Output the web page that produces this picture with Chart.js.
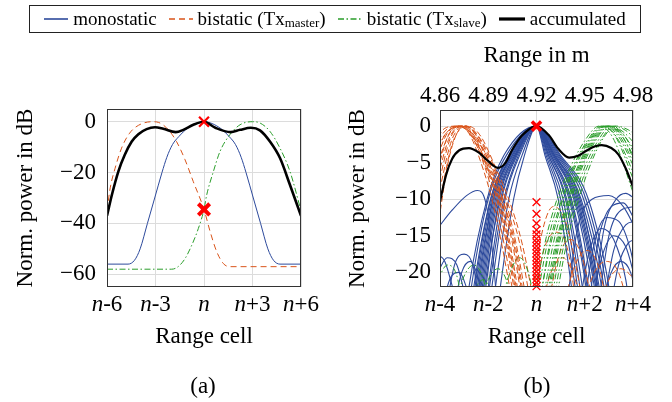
<!DOCTYPE html>
<html>
<head>
<meta charset="utf-8">
<script src="https://cdn.jsdelivr.net/npm/chart.js@4/dist/chart.umd.min.js"></script>
<style>
  body { margin: 0; width: 672px; height: 402px; position: relative; background: #fff; overflow: hidden;
         font-family: "Liberation Serif", serif; color: #000; }
  #chartA { position: absolute; left: 0; top: 0; }
  #chartB { position: absolute; left: 336px; top: 0; }
  .legend { position: absolute; left: 29px; top: 5px; width: 610px; height: 26px; border: 1px solid #222;
            display: flex; align-items: center; justify-content: center; gap: 12px; font-size: 19px; white-space: nowrap; }
  .legend span { display: flex; align-items: center; }
  .legend svg { margin-right: 5px; }
  .legend sub { font-size: 13px; position: relative; top: 4px; }
  .cap { position: absolute; top: 372px; width: 60px; text-align: center; font-size: 23px; line-height: 28px; }
</style>
</head>
<body>
<canvas id="chartA" width="336" height="402"></canvas>
<canvas id="chartB" width="336" height="402"></canvas>

<div class="legend">
  <span><svg width="24" height="10"><line x1="0" y1="5" x2="24" y2="5" stroke="#2d4a9c" stroke-width="1.6"/></svg>monostatic</span>
  <span><svg width="24" height="10"><line x1="0" y1="5" x2="24" y2="5" stroke="#d9541a" stroke-width="1.6" stroke-dasharray="6 4"/></svg>bistatic (Tx<sub>master</sub>)</span>
  <span><svg width="24" height="10"><line x1="0" y1="5" x2="24" y2="5" stroke="#2a9d2a" stroke-width="1.6" stroke-dasharray="6 2.5 1.5 2.5"/></svg>bistatic (Tx<sub>slave</sub>)</span>
  <span><svg width="26" height="10"><line x1="0" y1="5" x2="26" y2="5" stroke="#000" stroke-width="3.2"/></svg>accumulated</span>
</div>
<div class="cap" style="left:173px">(a)</div>
<div class="cap" style="left:507px">(b)</div>

<script>
// ---- (a) single target ----
const xTicksA = [-6, -3, 0, 3, 6];
const xLabelsA = ["-6", "-3", "", "+3", "+6"];
const yTicksA = [0, -20, -40, -60];

const monoA = [[-6, -56], [-4.7, -56], [-4.3, -54.5], [-3.95, -50], [-3.5, -40], [-3.05, -30], [-2.6, -20],
  [-2.3, -14], [-1.95, -9], [-1.55, -5.8], [-1.0, -2.5], [0, 0], [1.0, -2.5], [1.55, -5.8], [1.95, -9],
  [2.3, -14], [2.6, -20], [3.05, -30], [3.5, -40], [3.95, -50], [4.3, -54.5], [4.7, -56], [6, -56]];
const masterA = [[-6, -35], [-5.8, -26], [-5.5, -18.3], [-5.1, -10.4], [-4.6, -4.5], [-4.05, -1.4], [-3.2, 0],
  [-2.8, -0.3], [-2.2, -3.2], [-1.7, -7.8], [-1.17, -15], [-0.66, -23.6], [0, -34.5], [0.37, -43], [0.78, -51],
  [1.2, -55.8], [1.6, -57], [6, -57]];
const slaveA = [[-6, -58], [-2.0, -58], [-1.6, -57], [-1.17, -53.8], [-0.76, -48.6], [-0.35, -42], [0, -34.5],
  [0.16, -29], [0.58, -19.6], [0.99, -11.7], [1.6, -5.1], [2.23, -1.2], [3.0, 0], [3.46, -0.5], [4.08, -3.8],
  [4.7, -10.4], [5.32, -19.6], [6, -35]];
const accA = [[-6, -37], [-5.7, -28.8], [-5.3, -19.6], [-4.9, -13], [-4.47, -7.8], [-4.06, -4.9], [-3.55, -2.9],
  [-3.03, -2.2], [-2.52, -2.8], [-1.75, -4.1], [-1.28, -3.2], [-0.66, -1.2], [0, 0], [0.7, -2.4], [1.65, -4.1],
  [2.23, -3.2], [2.9, -2.4], [3.46, -3.4], [4.08, -7.8], [4.7, -14.3], [5.32, -24.9], [6, -37]];
const peakA = [[0, 0]];
const crossA = [[0, -34.5]];

// ---- (b) all measurements ----
const xTicksB = [-4, -2, 0, 2, 4];
const xLabelsB = ["-4", "-2", "", "+2", "+4"];
const rangeLabelsB = ["4.86", "4.89", "4.92", "4.95", "4.98"];
const yTicksB = [0, -5, -10, -15, -20];

const monoB = [
  [[-1.8, -30], [-1.5, -22], [-0.95, -10], [-0.5, -4], [0, 0], [0.35, -4], [0.9, -10], [1.45, -22], [1.75, -30]],
  [[-2.0, -30], [-1.7, -22], [-1.15, -10], [-0.6, -4], [0, 0], [0.45, -4], [1.1, -10], [1.7, -22], [2.0, -30]],
  [[-2.15, -30], [-1.85, -22], [-1.3, -10], [-0.7, -4], [0, 0], [0.5, -4], [1.25, -10], [1.9, -22], [2.2, -30]],
  [[-2.3, -30], [-2.0, -22], [-1.45, -10], [-0.8, -4], [0, 0], [0.55, -4], [1.35, -10], [2.05, -22], [2.35, -30]],
  [[-2.4, -30], [-2.1, -22], [-1.55, -10], [-0.85, -4], [0, 0], [0.6, -4], [1.45, -10], [2.15, -22], [2.45, -30]],
  [[-2.5, -30], [-2.2, -22], [-1.6, -10], [-0.9, -4], [0, 0], [0.65, -4], [1.55, -10], [2.3, -22], [2.6, -30]],
  [[-2.6, -30], [-2.3, -22], [-1.7, -10], [-0.95, -4], [0, 0], [0.7, -4], [1.6, -10], [2.4, -22], [2.7, -30]],
  [[-2.65, -30], [-2.35, -22], [-1.75, -10], [-1.0, -4], [0, 0], [0.75, -4], [1.7, -10], [2.5, -22], [2.8, -30]],
  [[-2.75, -30], [-2.45, -22], [-1.8, -10], [-1.05, -4], [0, 0], [0.8, -4], [1.75, -10], [2.6, -22], [2.9, -30]],
  [[-2.8, -30], [-2.5, -22], [-1.85, -10], [-1.1, -4], [0, 0], [0.85, -4], [1.85, -10], [2.7, -22], [3.0, -30]],
  [[-2.9, -30], [-2.6, -22], [-1.9, -10], [-1.15, -4], [0, 0], [0.9, -4], [1.95, -10], [2.8, -22], [3.1, -30]],
  [[-3.0, -30], [-2.7, -22], [-2.0, -10], [-1.25, -4], [0, 0], [0.95, -4], [2.05, -10], [2.9, -22], [3.2, -30]],
  [[-3.1, -30], [-2.8, -22], [-2.05, -10], [-1.35, -4], [0, 0], [1.0, -4], [2.15, -10], [3.0, -22], [3.3, -30]],
  [[-2.25, -30], [-1.95, -22], [-1.35, -10], [-0.75, -4], [0, 0], [0.4, -4], [1.0, -10], [1.6, -22], [1.9, -30]],
  [[-2.45, -30], [-2.15, -22], [-1.5, -10], [-0.85, -4], [0, 0], [0.5, -4], [1.2, -10], [1.8, -22], [2.1, -30]],
  [[-2.55, -30], [-2.25, -22], [-1.65, -10], [-0.9, -4], [0, 0], [0.7, -4], [1.65, -10], [2.45, -22], [2.75, -30]],
  [[-2.7, -30], [-2.4, -22], [-1.8, -10], [-1.0, -4], [0, 0], [0.6, -4], [1.4, -10], [2.1, -22], [2.4, -30]],
  [[-2.85, -30], [-2.55, -22], [-1.9, -10], [-1.1, -4], [0, 0], [0.75, -4], [1.8, -10], [2.55, -22], [2.85, -30]]
];
const monoSideB = [
  [[2.3, -26], [2.8, -14], [3.3, -10], [3.7, -9.2], [4.1, -10]],
  [[2.1, -26], [2.6, -15], [3.1, -11], [3.6, -10.5], [4.1, -13]],
  [[2.5, -26], [3.0, -15], [3.5, -11.5], [4.1, -11]],
  [[1.9, -26], [2.4, -16], [2.9, -12.5], [3.4, -13], [3.9, -17], [4.2, -22]],
  [[2.7, -26], [3.2, -17], [3.7, -13.5], [4.1, -13]],
  [[2.2, -26], [2.7, -18], [3.2, -15], [3.7, -16.5], [4.1, -21]],
  [[3.0, -26], [3.4, -19], [3.8, -16], [4.1, -15.5]],
  [[1.7, -26], [2.2, -17], [2.7, -14], [3.2, -15.5], [3.7, -21], [3.9, -26]],
  [[1.2, -26], [1.7, -14], [2.3, -10], [3.0, -9.5], [3.6, -11], [4.1, -14]],
  [[2.6, -26], [3.1, -20], [3.5, -18.5], [3.9, -20], [4.2, -24]],
  [[-4.1, -20], [-3.7, -18], [-3.3, -19], [-2.9, -24]],
  [[-3.8, -26], [-3.4, -19], [-3.0, -17.5], [-2.6, -19.5], [-2.3, -26]],
  [[-4.1, -17.5], [-3.8, -18.5], [-3.4, -23]],
  [[-3.5, -26], [-3.1, -20], [-2.75, -18.5], [-2.4, -21], [-2.1, -26]],
  [[-4.0, -26], [-3.6, -21], [-3.2, -20], [-2.8, -23]],
  [[-4.1, -14], [-3.5, -11.5], [-2.9, -9.5], [-2.45, -8.8], [-2.1, -10.5], [-1.8, -18], [-1.6, -26]]
];
const masterB = [
  [[-4.1, -4], [-3.7, -1], [-3.2, 0], [-2.7, -1.2], [-2.1, -6], [-1.75, -10], [-1.35, -16], [-0.8, -26]],
  [[-4.1, -2.5], [-3.6, -0.5], [-3.1, 0], [-2.6, -1.2], [-2.0, -6], [-1.6, -10], [-1.2, -16], [-0.7, -26]],
  [[-4.1, -7], [-3.6, -1.5], [-3.0, 0], [-2.5, -1.3], [-1.85, -6], [-1.45, -10], [-1.0, -16], [-0.5, -26]],
  [[-4.1, -10], [-3.5, -1.8], [-2.9, 0], [-2.4, -1.4], [-1.7, -6], [-1.3, -10], [-0.85, -16], [-0.3, -26]],
  [[-4.1, -1.5], [-3.8, -0.3], [-3.3, 0], [-2.8, -1.0], [-2.2, -6], [-1.85, -10], [-1.45, -16], [-0.9, -26]],
  [[-4.1, -14], [-3.6, -4], [-3.0, 0], [-2.6, -0.8], [-1.9, -6], [-1.4, -10], [-0.9, -16], [-0.4, -26]],
  [[-4.1, -5], [-3.6, -1], [-3.15, 0], [-2.65, -1.3], [-1.95, -6], [-1.5, -10], [-1.1, -16], [-0.6, -26]],
  [[-4.1, -3], [-3.7, -0.8], [-3.25, 0], [-2.75, -1.1], [-2.05, -6], [-1.65, -10], [-1.25, -16], [-0.75, -26]],
  [[-4.1, -8.5], [-3.55, -1.5], [-2.95, 0], [-2.45, -1.3], [-1.75, -6], [-1.25, -10], [-0.7, -16], [-0.15, -26]],
  [[-4.1, -12], [-3.5, -2.5], [-2.85, 0], [-2.35, -1.2], [-1.65, -6], [-1.15, -10], [-0.6, -16], [0.0, -26]],
  [[-4.1, -6], [-3.65, -1.2], [-3.1, 0], [-2.55, -1.5], [-1.8, -6], [-1.4, -10], [-0.95, -16], [-0.45, -26]],
  [[-4.1, -2], [-3.7, -0.4], [-3.2, 0], [-2.7, -1.0], [-2.0, -6], [-1.55, -10], [-1.15, -16], [-0.65, -26]]
];
const masterSideB = [
  [[-0.2, -26], [0.3, -17], [0.8, -14.5], [1.3, -17], [1.7, -26]],
  [[0.4, -26], [0.9, -18], [1.4, -15.5], [1.9, -18], [2.4, -26]],
  [[1.0, -26], [1.6, -19], [2.1, -17], [2.6, -19.5], [3.0, -26]],
  [[1.8, -26], [2.4, -20], [2.9, -18.5], [3.4, -20], [3.9, -26]],
  [[0.1, -26], [0.6, -20], [1.1, -18], [1.6, -21], [2.0, -26]],
  [[2.5, -26], [3.0, -21], [3.5, -19.5], [4.1, -21]],
  [[-0.3, -26], [0.2, -15], [0.7, -11], [1.2, -13], [1.8, -22], [2.0, -26]]
];
const slaveB = [
  [[0.0, -26], [0.6, -16], [1.1, -10], [1.55, -6], [2.2, -2], [2.8, 0], [3.35, -1.2], [4.1, -6]],
  [[0.2, -26], [0.8, -16], [1.3, -10], [1.7, -6], [2.3, -2], [2.9, 0], [3.45, -1.0], [4.1, -4.5]],
  [[0.4, -26], [0.95, -16], [1.45, -10], [1.85, -6], [2.45, -2], [3.0, 0], [3.55, -1.0], [4.1, -3.5]],
  [[0.5, -26], [1.05, -16], [1.55, -10], [1.95, -6], [2.55, -2], [3.1, 0], [3.6, -0.8], [4.1, -2.5]],
  [[-0.1, -26], [0.45, -16], [0.95, -10], [1.45, -6], [2.1, -2], [2.7, 0], [3.25, -1.3], [4.1, -8]],
  [[0.6, -26], [1.15, -16], [1.65, -10], [2.05, -6], [2.65, -2], [3.2, 0], [3.7, -0.6], [4.1, -1.8]],
  [[0.3, -26], [0.85, -16], [1.35, -10], [1.75, -6], [2.35, -2], [2.95, 0], [3.5, -1.1], [4.1, -5]],
  [[-0.2, -26], [0.35, -16], [0.85, -10], [1.35, -6], [2.0, -2], [2.6, 0], [3.15, -1.5], [4.1, -10]],
  [[0.15, -26], [0.7, -16], [1.2, -10], [1.65, -6], [2.25, -2], [2.85, 0], [3.4, -1.1], [4.1, -5.5]],
  [[0.7, -26], [1.25, -16], [1.75, -10], [2.15, -6], [2.7, -2], [3.3, 0], [3.8, -0.5], [4.1, -1.2]],
  [[0.05, -26], [0.55, -16], [1.05, -10], [1.5, -6], [2.15, -2], [2.75, 0], [3.3, -1.4], [4.1, -7]],
  [[0.35, -26], [0.9, -16], [1.4, -10], [1.8, -6], [2.4, -2], [3.0, 0], [3.55, -0.9], [4.1, -4]]
];
const slaveSideB = [
  [[-4.1, -21], [-3.7, -19], [-3.3, -20.5], [-3.0, -26]],
  [[-3.5, -26], [-3.0, -20.5], [-2.6, -19], [-2.2, -21], [-1.9, -26]],
  [[-2.5, -26], [-2.0, -21], [-1.6, -19.5], [-1.2, -21.5], [-0.9, -26]],
  [[-1.6, -26], [-1.1, -20], [-0.7, -18], [-0.3, -20.5], [0.0, -26]],
  [[-2.9, -26], [-2.5, -22], [-2.2, -21], [-1.8, -23]]
];
const accB = [[-4, -10.3], [-3.75, -6.7], [-3.5, -4.5], [-3.2, -3.3], [-2.8, -3.0], [-2.4, -3.6], [-2.0, -4.8],
  [-1.6, -5.7], [-1.3, -5.1], [-1.0, -3.2], [-0.6, -1.3], [0, 0], [0.5, -1.2], [0.9, -3.1], [1.35, -4.3],
  [1.7, -4.1], [2.05, -3.4], [2.4, -2.8], [2.7, -2.6], [3.1, -3.0], [3.4, -3.9], [3.7, -5.8], [4.0, -8.3]];
const peakB = [[0, 0]];
const crossB = [[0, -10.4], [0, -12], [0, -13.3], [0, -14.2], [0, -14.8], [0, -15.4], [0, -15.9], [0, -16.4],
  [0, -16.9], [0, -17.4], [0, -17.9], [0, -18.4], [0, -18.9], [0, -19.4], [0, -19.9], [0, -20.4], [0, -20.9],
  [0, -21.4], [0, -21.9]];

// ---- styles ----
const BLUE = "#2d4a9c";
const RED = "#d9541a";
const GREEN = "#2a9d2a";
const FONT = "'Liberation Serif', 'Times New Roman', serif";

const pts = (arr) => arr.map(([x, y]) => ({ x, y }));

const line = (data, color, width, dash, order) => ({
  data: pts(data),
  borderColor: color,
  borderWidth: width,
  borderDash: dash,
  pointRadius: 0,
  fill: false,
  cubicInterpolationMode: "monotone",
  clip: 0,
  order,
});

const marks = (data, radius, width, order) => ({
  data: pts(data),
  showLine: false,
  pointStyle: "crossRot",
  pointRadius: radius,
  pointBorderWidth: width,
  pointBorderColor: "#ff0000",
  pointBackgroundColor: "#ff0000",
  clip: false,
  order,
});

// frame round the plot area and x labels with an italic n
const framePlugin = {
  id: "frame",
  afterDatasetsDraw(chart) {
    const { ctx, chartArea: a } = chart;
    ctx.save();
    ctx.strokeStyle = "#333";
    ctx.lineWidth = 1;
    ctx.strokeRect(a.left + 0.5, a.top + 0.5, a.width - 1, a.height - 1);
    ctx.restore();
  },
  afterDraw(chart) {
    const opts = chart.options.plugins.frame;
    const sc = chart.scales.x;
    const ctx = chart.ctx;
    const y = chart.chartArea.bottom + 18;
    ctx.save();
    ctx.fillStyle = "#000";
    ctx.textBaseline = "middle";
    ctx.textAlign = "left";
    opts.values.forEach((v, i) => {
      const px = sc.getPixelForValue(v);
      ctx.font = "italic 23px " + FONT;
      const wn = ctx.measureText("n").width;
      ctx.font = "23px " + FONT;
      const ws = ctx.measureText(opts.labels[i]).width;
      const left = px - (wn + ws) / 2;
      ctx.font = "italic 23px " + FONT;
      ctx.fillText("n", left, y);
      ctx.font = "23px " + FONT;
      ctx.fillText(opts.labels[i], left + wn, y);
    });
    ctx.restore();
  },
};

const tickFont = { family: FONT, size: 23 };
const gridStyle = { color: "#dcdcdc", lineWidth: 1, drawTicks: false };
const minus = (v) => String(v).replace("-", "\u2212");

function makeChart(id, cfg) {
  return new Chart(document.getElementById(id), {
    type: "line",
    data: { datasets: cfg.datasets },
    options: {
      responsive: false,
      animation: false,
      events: [],
      layout: { padding: cfg.padding },
      plugins: {
        legend: { display: false },
        tooltip: { enabled: false },
        frame: { values: cfg.xTicks, labels: cfg.xLabels },
      },
      scales: Object.assign({
        x: {
          type: "linear",
          min: cfg.xTicks[0],
          max: cfg.xTicks[cfg.xTicks.length - 1],
          afterBuildTicks: (s) => { s.ticks = cfg.xTicks.map((v) => ({ value: v })); },
          afterFit: (s) => { s.height = 67; },
          ticks: { display: false },
          grid: gridStyle,
          border: { display: false },
          title: { display: true, text: "Range cell", color: "#000", font: tickFont, padding: { top: 0, bottom: 3 } },
        },
        y: {
          min: cfg.yMin,
          max: cfg.yMax,
          afterBuildTicks: (s) => { s.ticks = cfg.yTicks.map((v) => ({ value: v })); },
          afterFit: (s) => { s.width = cfg.yWidth; },
          ticks: { color: "#000", font: tickFont, padding: cfg.yPad, callback: minus },
          grid: gridStyle,
          border: { display: false },
          title: { display: true, text: "Norm. power in dB", color: "#000", font: tickFont, padding: { top: cfg.yTitlePad, bottom: 0 } },
        },
      }, cfg.extraScales || {}),
    },
    plugins: [framePlugin],
  });
}

makeChart("chartA", {
  padding: { left: 0, top: 109, right: 35, bottom: 48 },
  xTicks: xTicksA, xLabels: xLabelsA,
  yTicks: yTicksA, yMin: -65, yMax: 5, yWidth: 107, yPad: 11, yTitlePad: 11.7,
  datasets: [
    marks(peakA, 7, 2.2, 0),
    marks(crossA, 8, 4, 0),
    line(accA, "#000", 2.6, [], 1),
    line(slaveA, GREEN, 1, [6, 2.5, 1.5, 2.5], 2),
    line(masterA, RED, 1, [6, 4], 3),
    line(monoA, BLUE, 1, [], 4),
  ],
});

makeChart("chartB", {
  padding: { left: 0, top: 0, right: 39, bottom: 48 },
  xTicks: xTicksB, xLabels: xLabelsB,
  yTicks: yTicksB, yMin: -22, yMax: 2.2, yWidth: 104, yPad: 9, yTitlePad: 7.7,
  extraScales: {
    x2: {
      type: "linear",
      position: "top",
      min: -4,
      max: 4,
      afterBuildTicks: (s) => { s.ticks = xTicksB.map((v) => ({ value: v })); },
      afterFit: (s) => { s.height = 110; },
      ticks: { color: "#000", font: tickFont, padding: 0, callback: (v, i) => rangeLabelsB[i] },
      grid: { display: false, drawTicks: false },
      border: { display: false },
      title: { display: true, text: "Range in m", color: "#000", font: tickFont, padding: { top: 42, bottom: 0 } },
    },
  },
  datasets: [
    marks(peakB, 6.5, 3.5, 0),
    marks(crossB, 5.5, 1.3, 0),
    line(accB, "#000", 2.2, [], 1),
    ...slaveB.map((c) => line(c, GREEN, 1, [6, 2.5, 1.5, 2.5], 2)),
    ...slaveSideB.map((c) => line(c, GREEN, 1, [6, 2.5, 1.5, 2.5], 2)),
    ...masterB.map((c) => line(c, RED, 1, [6, 3], 3)),
    ...masterSideB.map((c) => line(c, RED, 1, [6, 3], 3)),
    ...monoB.map((c) => line(c, BLUE, 1.1, [], 4)),
    ...monoSideB.map((c) => line(c, BLUE, 1.1, [], 4)),
  ],
});
</script>
</body>
</html>
